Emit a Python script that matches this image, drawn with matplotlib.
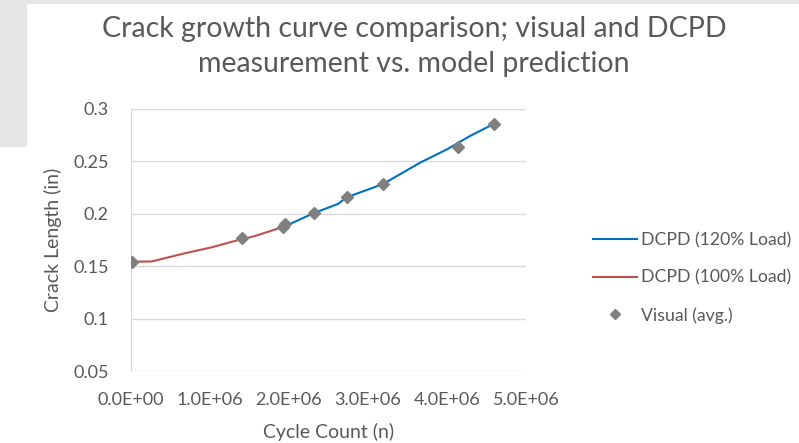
import matplotlib
matplotlib.use("Agg")
import matplotlib.pyplot as plt
from matplotlib.patches import Rectangle
import matplotlib.ticker as ticker

plt.rcParams['font.family'] = ['Lato', 'DejaVu Sans']

# DCPD at 100% load (cycles, crack length in)
red_n = [0.0, 0.26e6, 0.68e6, 1.02e6, 1.36e6, 1.46e6, 1.61e6, 1.91e6]
red_a = [0.1543, 0.1545, 0.1623, 0.168, 0.175, 0.1766, 0.1798, 0.1871]

# DCPD at 120% load
blue_n = [2.03e6, 2.31e6, 2.62e6, 2.73e6, 3.19e6, 3.66e6, 4.00e6, 4.29e6, 4.59e6]
blue_a = [0.1909, 0.2005, 0.2094, 0.2157, 0.2284, 0.2488, 0.2615, 0.2742, 0.2857]

# Visual measurements (avg.)
vis_n = [0.01e6, 1.40e6, 1.93e6, 1.95e6, 2.32e6, 2.74e6, 3.19e6, 4.14e6, 4.59e6]
vis_a = [0.1543, 0.1769, 0.1877, 0.1903, 0.2005, 0.2163, 0.2281, 0.2637, 0.2860]

text_col = '#595959'
grid_col = '#d9d9d9'

fig = plt.figure(figsize=(7.99, 4.43), dpi=100)
W, H = 799, 443
# light gray backdrop peeking round the chart
fig.patches.append(Rectangle((0, 1 - 147 / H), 27 / W, 147 / H, transform=fig.transFigure,
                             facecolor='#e6e6e6', edgecolor='none', zorder=0))
fig.patches.append(Rectangle((0, 1 - 4 / H), 1, 4 / H, transform=fig.transFigure,
                             facecolor='#e6e6e6', edgecolor='none', zorder=0))

ax = fig.add_axes([131 / W, 1 - 371 / H, (526 - 131) / W, (371 - 109) / H])

ax.plot(blue_n, blue_a, color='#0070c0', lw=1.5, label='DCPD (120% Load)', zorder=3)
ax.plot(red_n, red_a, color='#c0504d', lw=1.5, label='DCPD (100% Load)', zorder=3)
ax.plot(vis_n, vis_a, ls='none', marker='D', markersize=6, color='#7f7f7f',
        label='Visual (avg.)', zorder=4)

ax.set_xlim(0, 5e6)
ax.set_ylim(0.05, 0.3)
ax.xaxis.set_major_locator(ticker.MultipleLocator(1e6))
ax.yaxis.set_major_locator(ticker.MultipleLocator(0.05))
ax.xaxis.set_major_formatter(ticker.FuncFormatter(lambda v, p: f"{v:.1E}"))
ax.yaxis.set_major_formatter(ticker.FuncFormatter(lambda v, p: f"{v:g}"))

ax.grid(axis='y', color=grid_col, lw=1)
ax.set_axisbelow(True)
for s in ['top', 'right', 'bottom']:
    ax.spines[s].set_visible(False)
ax.spines['left'].set_color(grid_col)
ax.tick_params(length=0, colors=text_col, labelsize=13)
ax.tick_params(axis='x', pad=15)
ax.tick_params(axis='y', pad=16)

ax.set_xlabel('Cycle Count (n)', fontsize=14, color=text_col, labelpad=11)
ax.set_ylabel('Crack Length (in)', fontsize=14, color=text_col, labelpad=8)

fig.text(414 / W, 1 - 46.5 / H, 'Crack growth curve comparison; visual and DCPD\nmeasurement vs. model prediction',
         ha='center', va='center', fontsize=20.5, color=text_col, linespacing=1.42)

leg = ax.legend(loc='center left', bbox_to_anchor=(1.17, 0.355), frameon=False,
                fontsize=12.7, labelcolor=text_col, handlelength=2.5, handletextpad=0.2,
                labelspacing=1.2, borderpad=0, borderaxespad=0, markerscale=0.8)

fig.savefig('out.png', dpi=100, facecolor='white')
